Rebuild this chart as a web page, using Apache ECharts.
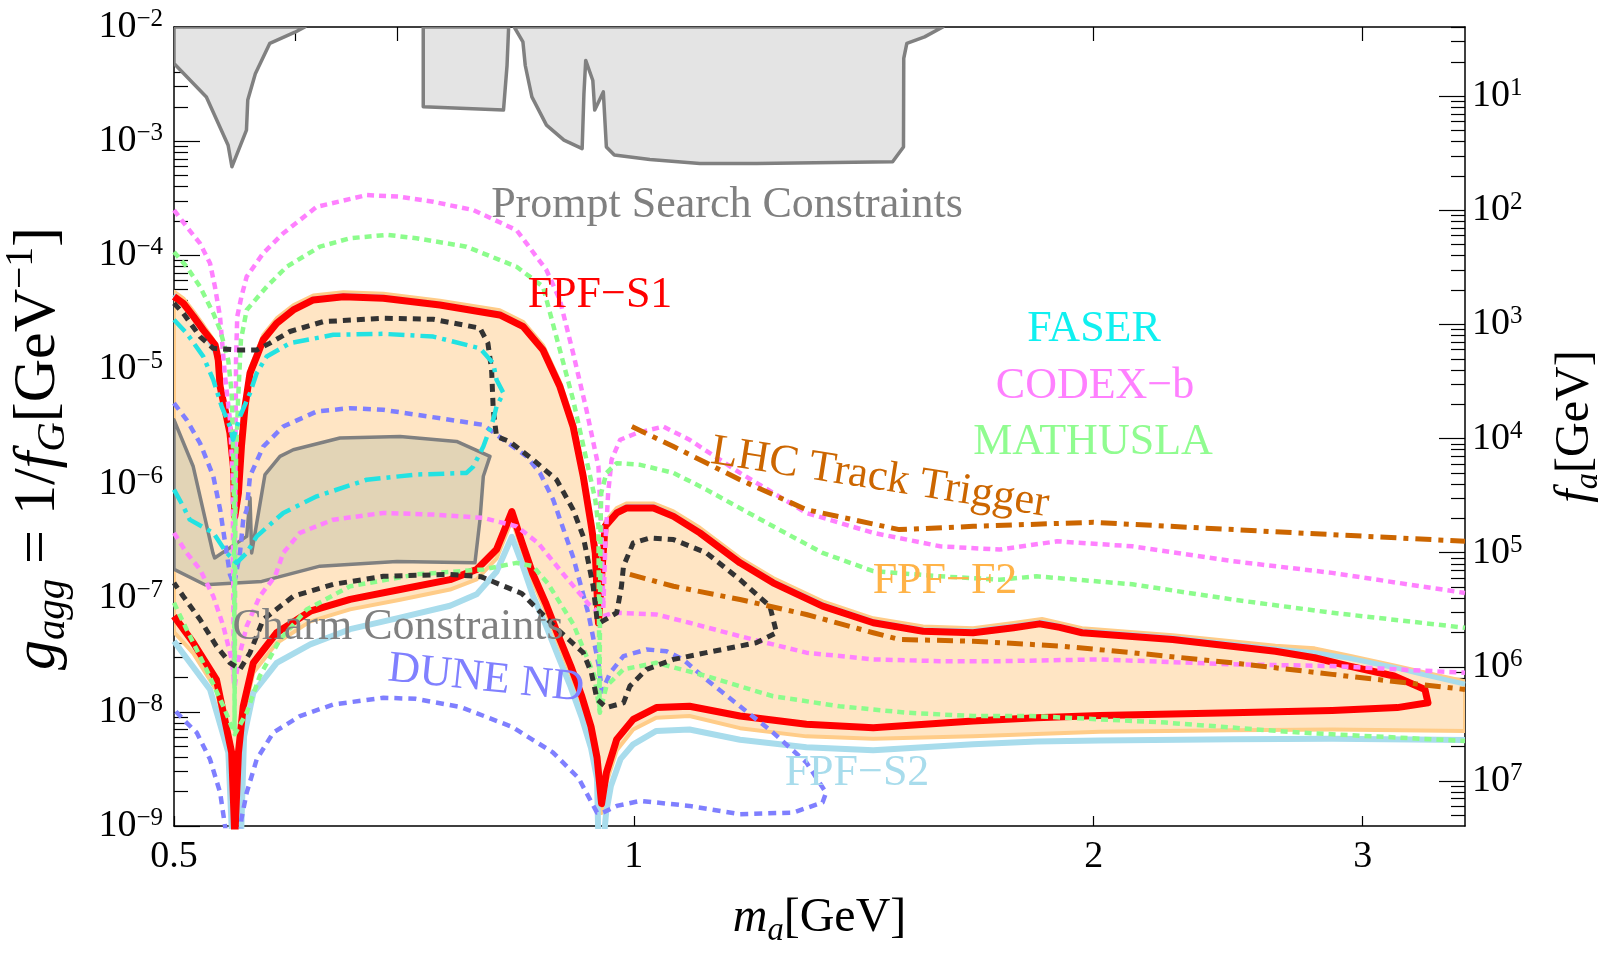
<!DOCTYPE html>
<html>
<head>
<meta charset="utf-8">
<script src="https://cdn.jsdelivr.net/npm/echarts@6/dist/echarts.min.js"></script>
<style>
  html, body { margin: 0; padding: 0; background: #ffffff; }
  #chart { width: 1606px; height: 955px; }
</style>
</head>
<body>
<div id="chart"></div>
<script>
// ---- axis values ----
const X_MIN = 0.5, X_MAX = 3.5;
const Y_MIN = 1e-9, Y_MAX = 1e-2;
const F_MIN = 2.48, F_MAX = 2.48e7;
const X_LABELS = [0.5, 1, 2, 3];
const X_TOP_MAJOR = [1];
const X_TOP_MINOR = [0.6, 0.7, 0.8, 0.9, 2, 3];
const Y_MAJOR = [1e-9, 1e-8, 1e-7, 1e-6, 1e-5, 1e-4, 1e-3, 1e-2];
const F_MAJOR = [1e1, 1e2, 1e3, 1e4, 1e5, 1e6, 1e7];

// ---- curves: [m_a (GeV), g_agg (GeV^-1)] ----
const PROMPT_A = [[0.5,1e-2],[0.5,4.8e-3],[0.525,2.44e-3],[0.5425,9.2e-4],[0.5456,5.96e-4],[0.5577,1.25e-3],[0.5588,2.29e-3],[0.5652,3.9e-3],[0.5777,7.2e-3],[0.6,9.0e-3],[0.609,1e-2]];
const PROMPT_B = [[0.728,1e-2],[0.728,2.0e-3],[0.8216,1.87e-3],[0.826,4.6e-3],[0.828,1e-2]];
const PROMPT_C = [[0.835,1e-2],[0.846,7.4e-3],[0.849,4.6e-3],[0.8575,2.44e-3],[0.8766,1.38e-3],[0.9,1.02e-3],[0.925,8.6e-4],[0.9275,2.6e-3],[0.93,5.1e-3],[0.94,3.4e-3],[0.9427,1.87e-3],[0.955,2.7e-3],[0.9594,8.9e-4],[0.971,7.55e-4],[1.0245,6.9e-4],[1.1046,6.38e-4],[1.2035,6.38e-4],[1.477,6.6e-4],[1.5014,8.9e-4],[1.502,5.3e-3],[1.509,7.2e-3],[1.55,8.2e-3],[1.593,1e-2]];

const CHARM = [[0.5,3.62e-6],[0.5147,1.41e-6],[0.5302,2.47e-7],[0.5316,2.23e-7],[0.5579,3.45e-7],[0.5607,7.5e-7],[0.5621,2.47e-7],[0.5735,1.2e-6],[0.5866,1.73e-6],[0.5985,1.98e-6],[0.6421,2.51e-6],[0.703,2.59e-6],[0.7655,2.34e-6],[0.805,1.73e-6],[0.797,1.16e-6],[0.793,4.83e-7],[0.787,2.02e-7],[0.6996,2.08e-7],[0.623,1.89e-7],[0.5707,1.39e-7],[0.5239,1.3e-7],[0.5,1.77e-7]];

const FPF_S1 = [[0.5,4.34e-5],[0.507,3.8e-5],[0.515,2.9e-5],[0.5225,2.22e-5],[0.532,1.64e-5],[0.5345,1.21e-5],[0.536,7.08e-6],[0.54,4.43e-6],[0.544,2.77e-6],[0.5468,1.41e-6],[0.548,5.16e-7],[0.551,8.28e-7],[0.5535,2.11e-6],[0.5565,4.73e-6],[0.5607,9.29e-6],[0.5664,1.3e-5],[0.572,1.82e-5],[0.5837,2.54e-5],[0.5985,3.32e-5],[0.6168,4.06e-5],[0.6454,4.34e-5],[0.6855,4.2e-5],[0.7465,3.67e-5],[0.817,3.0e-5],[0.8465,2.37e-5],[0.872,1.48e-5],[0.8945,7.08e-6],[0.9125,3.16e-6],[0.9265,1.16e-6],[0.938,4.22e-7],[0.9435,2.47e-7],[0.948,6.03e-8],[0.9575,4.22e-7],[0.9745,5.53e-7],[0.9895,6.12e-7],[1.03,6.12e-7],[1.0615,5.16e-7],[1.1045,3.7e-7],[1.1735,2.02e-7],[1.2335,1.35e-7],[1.329,8.43e-8],[1.4345,6.03e-8],[1.5465,5.09e-8],[1.6675,4.93e-8],[1.7725,5.46e-8],[1.8435,5.9e-8],[1.9,5.5e-8],[1.965,4.93e-8],[2.2525,4.31e-8],[2.63,3.4e-8],[2.79,2.98e-8],[2.94,2.52e-8],[3.145,2.06e-8],[3.295,1.57e-8],[3.31,1.2e-8],[3.16,1.09e-8],[2.865,1.03e-8],[2.465,9.84e-9],[2.018,9.31e-9],[1.835,8.89e-9],[1.6675,8.3e-9],[1.4345,7.27e-9],[1.297,7.78e-9],[1.1735,9.19e-9],[1.0875,1.12e-8],[1.0345,1.09e-8],[0.999,8.59e-9],[0.9745,5.74e-9],[0.9595,2.94e-9],[0.9525,1.57e-9],[0.946,3.98e-9],[0.9375,7.4e-9],[0.9245,1.37e-8],[0.909,2.55e-8],[0.892,4.73e-8],[0.876,8.81e-8],[0.8585,1.63e-7],[0.845,3.03e-7],[0.832,5.68e-7],[0.813,2.64e-7],[0.789,1.77e-7],[0.758,1.44e-7],[0.703,1.18e-7],[0.652,9.66e-8],[0.614,7.62e-8],[0.5837,4.93e-8],[0.5635,2.69e-8],[0.555,1.12e-8],[0.551,4.4e-9],[0.548,8e-10],[0.5454,4.4e-9],[0.533,1.92e-8],[0.5148,4.03e-8],[0.5,6.89e-8]];

const FPF_F2 = [[0.5,4.8e-5],[0.507,4.2e-5],[0.515,3.2e-5],[0.5225,2.45e-5],[0.53,1.85e-5],[0.533,1.35e-5],[0.535,7.8e-6],[0.539,4.8e-6],[0.543,3.0e-6],[0.546,1.5e-6],[0.548,5.5e-7],[0.551,9e-7],[0.5535,2.3e-6],[0.5565,5.2e-6],[0.5607,1.02e-5],[0.5664,1.43e-5],[0.572,2.0e-5],[0.5837,2.8e-5],[0.5985,3.65e-5],[0.6168,4.45e-5],[0.6454,4.75e-5],[0.6855,4.6e-5],[0.7465,4.0e-5],[0.817,3.3e-5],[0.8465,2.6e-5],[0.872,1.63e-5],[0.8945,7.8e-6],[0.9125,3.5e-6],[0.9265,1.28e-6],[0.938,4.6e-7],[0.9435,2.7e-7],[0.948,6.5e-8],[0.9575,4.6e-7],[0.9745,6.1e-7],[0.9895,6.7e-7],[1.03,6.7e-7],[1.0615,5.7e-7],[1.1045,4.1e-7],[1.1735,2.22e-7],[1.2335,1.49e-7],[1.329,9.3e-8],[1.4345,6.6e-8],[1.5465,5.6e-8],[1.6675,5.4e-8],[1.7725,6.0e-8],[1.85,6.5e-8],[1.965,5.4e-8],[2.2525,4.7e-8],[2.63,3.8e-8],[2.79,3.6e-8],[2.94,3.1e-8],[3.145,2.55e-8],[3.3,2.2e-8],[3.5,1.85e-8],
  [3.5,6.8e-9],[2.865,7.0e-9],[2.465,6.9e-9],[2.018,6.7e-9],[1.835,6.4e-9],[1.6675,6.1e-9],[1.4345,5.8e-9],[1.297,6.1e-9],[1.1735,7.2e-9],[1.0875,9.2e-9],[1.0345,8.9e-9],[0.999,7.0e-9],[0.9745,4.6e-9],[0.9595,2.4e-9],[0.9525,1.3e-9],[0.946,3.3e-9],[0.9375,6.2e-9],[0.9245,1.15e-8],[0.909,2.15e-8],[0.892,4.0e-8],[0.876,7.5e-8],[0.8585,1.39e-7],[0.845,2.6e-7],[0.832,4.8e-7],[0.813,2.2e-7],[0.789,1.45e-7],[0.758,1.18e-7],[0.703,9.6e-8],[0.652,7.9e-8],[0.614,6.2e-8],[0.5837,4.0e-8],[0.5635,2.2e-8],[0.555,9.0e-9],[0.551,3.5e-9],[0.548,6e-10],[0.5454,3.5e-9],[0.533,1.55e-8],[0.5148,3.25e-8],[0.5,5.0e-8]];

const FPF_S2_UP = [[0.5,4.5e-5],[0.515,3.0e-5],[0.5225,2.3e-5],[0.5345,1.25e-5],[0.536,7.3e-6],[0.54,4.6e-6],[0.544,2.85e-6],[0.5468,1.45e-6],[0.548,5.3e-7],[0.551,8.5e-7],[0.5535,2.2e-6],[0.5565,4.9e-6],[0.5607,9.6e-6],[0.572,1.88e-5],[0.5837,2.6e-5],[0.5985,3.4e-5],[0.6168,4.15e-5],[0.6454,4.45e-5],[0.6855,4.3e-5],[0.7465,3.75e-5],[0.817,3.07e-5],[0.8465,2.43e-5],[0.872,1.52e-5],[0.8945,7.3e-6],[0.9125,3.25e-6],[0.9265,1.2e-6],[0.938,4.35e-7],[0.9435,2.55e-7],[0.948,6.2e-8],[0.9575,4.35e-7],[0.9745,5.7e-7],[0.9895,6.3e-7],[1.03,6.3e-7],[1.0615,5.3e-7],[1.1045,3.8e-7],[1.1735,2.08e-7],[1.2335,1.39e-7],[1.329,8.7e-8],[1.4345,6.2e-8],[1.5465,5.25e-8],[1.6675,5.1e-8],[1.7725,5.65e-8],[1.85,6.1e-8],[1.965,5.1e-8],[2.2525,4.45e-8],[2.63,3.55e-8],[2.79,3.3e-8],[2.94,2.95e-8],[3.145,2.45e-8],[3.3,2.1e-8],[3.5,1.75e-8]];
const FPF_S2_LO = [[3.5,5.66e-9],[2.865,5.82e-9],[2.465,5.75e-9],[2.018,5.6e-9],[1.835,5.5e-9],[1.6675,5.2e-9],[1.4345,4.6e-9],[1.297,4.9e-9],[1.1735,5.7e-9],[1.0875,7.0e-9],[1.0345,6.8e-9],[0.999,5.2e-9],[0.98,3.85e-9],[0.966,2.24e-9],[0.959,1.3e-9],[0.955,7e-10],[0.948,7e-10],[0.946,2.6e-9],[0.9375,4.8e-9],[0.9245,8.9e-9],[0.909,1.66e-8],[0.892,3.1e-8],[0.876,5.7e-8],[0.8585,1.06e-7],[0.845,1.97e-7],[0.832,3.42e-7],[0.813,1.69e-7],[0.789,1.07e-7],[0.758,8.5e-8],[0.703,6.7e-8],[0.652,5.3e-8],[0.614,3.9e-8],[0.5837,2.69e-8],[0.5635,1.47e-8],[0.5557,6.1e-9],[0.553,7e-10],[0.546,7e-10],[0.5427,4.4e-9],[0.5279,1.57e-8],[0.5,4.16e-8]];

const CODEXB_UP = [[0.5,2.49e-4],[0.5096,1.78e-4],[0.52,1.27e-4],[0.5279,8.51e-5],[0.5318,5.31e-5],[0.5359,2.9e-5],[0.54,8.67e-6],[0.544,3.62e-6],[0.5462,1.2e-6],[0.5472,1.8e-8],[0.5485,1.2e-6],[0.549,1.21e-5],[0.55,2.9e-5],[0.5535,4.34e-5],[0.5579,6.5e-5],[0.5719,1.04e-4],[0.5895,1.56e-4],[0.62,2.66e-4],[0.6685,3.37e-4],[0.703,3.26e-4],[0.739,2.94e-4],[0.785,2.49e-4],[0.838,1.66e-4],[0.8765,7.43e-5],[0.8945,4.06e-5],[0.9125,1.39e-5],[0.931,4.43e-6],[0.948,1.41e-6],[0.953,3e-7],[0.955,8e-8],[0.958,3e-7],[0.962,8.28e-7],[0.967,1.62e-6],[0.9795,2.42e-6],[1.0045,2.77e-6],[1.045,3.16e-6],[1.0875,2.42e-6],[1.1735,1.24e-6],[1.297,5.53e-7],[1.4345,3.7e-7],[1.5865,2.82e-7],[1.735,2.64e-7],[1.8925,3.12e-7],[2.12,2.82e-7],[2.465,2.09e-7],[2.865,1.65e-7],[3.5,1.1e-7]];
const CODEXB_LO = [[0.5,3.7e-7],[0.5096,2.47e-7],[0.52,1.77e-7],[0.5305,1.03e-7],[0.5386,5.64e-8],[0.5454,2.88e-8],[0.548,1.68e-8],[0.551,2.88e-8],[0.5579,5.64e-8],[0.569,1.03e-7],[0.5823,1.54e-7],[0.5895,2.47e-7],[0.6045,3.7e-7],[0.6357,4.83e-7],[0.6855,5.53e-7],[0.739,5.35e-7],[0.797,5.0e-7],[0.838,4.22e-7],[0.8655,3.02e-7],[0.8985,1.63e-7],[0.934,8.8e-8],[0.9545,6.89e-8],[0.9695,7.38e-8],[1.0345,7.13e-8],[1.0875,6.03e-8],[1.1735,4.6e-8],[1.297,3.3e-8],[1.4345,2.88e-8],[1.5865,2.78e-8],[1.735,2.78e-8],[2.018,2.88e-8],[2.465,2.61e-8],[2.865,2.52e-8],[3.5,2.2e-8]];

const MATHUSLA_UP = [[0.5,1.07e-4],[0.5096,7.94e-5],[0.52,5.31e-5],[0.5305,3.11e-5],[0.536,2.22e-5],[0.5426,1.21e-5],[0.5454,6.21e-6],[0.5468,1.62e-6],[0.5473,6.5e-7],[0.5478,7e-9],[0.5485,6.5e-7],[0.549,1.62e-6],[0.5507,5.42e-6],[0.5531,1.82e-5],[0.5579,3.32e-5],[0.575,5.31e-5],[0.5926,7.94e-5],[0.623,1.19e-4],[0.652,1.41e-4],[0.689,1.51e-4],[0.7205,1.41e-4],[0.777,1.19e-4],[0.838,7.94e-5],[0.872,5.31e-5],[0.8945,1.48e-5],[0.9125,5.42e-6],[0.931,1.62e-6],[0.9435,7.23e-7],[0.948,4.22e-7],[0.9495,1.1e-8],[0.951,4.22e-7],[0.952,8.28e-7],[0.9595,1.24e-6],[0.9745,1.51e-6],[1.0095,1.46e-6],[1.0615,1.24e-6],[1.1155,8.85e-7],[1.2335,4.22e-7],[1.329,2.47e-7],[1.4345,1.71e-7],[1.5865,1.54e-7],[1.735,1.44e-7],[1.835,1.54e-7],[2.12,1.31e-7],[2.465,9.64e-8],[2.865,7.38e-8],[3.5,5.46e-8]];
const MATHUSLA_LO = [[0.5,9.02e-8],[0.5096,5.27e-8],[0.525,2.36e-8],[0.5386,1.12e-8],[0.548,6.36e-9],[0.5579,9.84e-9],[0.569,2.06e-8],[0.5866,4.31e-8],[0.6107,7.88e-8],[0.652,1.26e-7],[0.7205,1.6e-7],[0.797,1.77e-7],[0.838,2.02e-7],[0.859,1.89e-7],[0.8785,1.33e-7],[0.913,5.83e-8],[0.942,2.09e-8],[0.95,9.84e-9],[0.9595,1.68e-8],[0.9845,2.36e-8],[1.0345,2.69e-8],[1.1155,2.06e-8],[1.2335,1.37e-8],[1.3635,1.12e-8],[1.5075,9.84e-9],[1.6675,9.19e-9],[1.82,9.19e-9],[2.23,8.05e-9],[2.7275,6.58e-9],[3.5,5.56e-9]];

const DUNE_ND = [[0.5,5.07e-6],[0.5096,3.62e-6],[0.52,2.26e-6],[0.5305,1.16e-6],[0.536,5.91e-7],[0.5413,2.47e-7],[0.544,1.6e-7],[0.5473,1.3e-7],[0.5523,2.47e-7],[0.555,4.83e-7],[0.5579,5.91e-7],[0.5607,1.16e-6],[0.572,2.11e-6],[0.5895,3.16e-6],[0.62,4.28e-6],[0.652,4.58e-6],[0.6855,4.43e-6],[0.7205,4.01e-6],[0.797,3.27e-6],[0.8215,2.42e-6],[0.8507,1.73e-6],[0.868,1.24e-6],[0.8855,7.23e-7],[0.913,2.22e-7],[0.934,7.13e-8],[0.9485,2.55e-8],[0.953,1.51e-8],[0.965,2.2e-8],[0.9845,3.08e-8],[1.0195,3.52e-8],[1.0505,3.4e-8],[1.077,2.88e-8],[1.1155,1.92e-8],[1.1735,1.12e-8],[1.2335,6.58e-9],[1.297,3.6e-9],[1.336,1.96e-9],[1.329,1.61e-9],[1.2715,1.31e-9],[1.1735,1.27e-9],[1.0875,1.5e-9],[1.0095,1.66e-9],[0.9745,1.5e-9],[0.9545,1.31e-9],[0.946,1.31e-9],[0.92,2.63e-9],[0.885,4.42e-9],[0.832,7.4e-9],[0.7705,1.1e-8],[0.72,1.3e-8],[0.6855,1.33e-8],[0.6357,1.16e-8],[0.6045,9.19e-9],[0.5807,6.58e-9],[0.5664,3.84e-9],[0.5579,1.96e-9],[0.5535,1.15e-9],[0.5523,8e-10],[0.5413,8e-10],[0.536,1.96e-9],[0.5279,3.84e-9],[0.5174,6.58e-9],[0.507,8.59e-9],[0.5,1.05e-8]];

const FASER2_BLACK = [[0.5,3.8e-5],[0.507,3.11e-5],[0.52,1.94e-5],[0.5305,1.53e-5],[0.5495,1.48e-5],[0.5664,1.48e-5],[0.5778,1.7e-5],[0.5955,2.15e-5],[0.626,2.62e-5],[0.6855,2.81e-5],[0.739,2.75e-5],[0.793,2.3e-5],[0.8025,1.7e-5],[0.807,9.91e-6],[0.809,4.43e-6],[0.813,2.59e-6],[0.829,2.34e-6],[0.859,1.62e-6],[0.89,1.08e-6],[0.9125,5.91e-7],[0.9265,3.45e-7],[0.9405,1.26e-7],[0.946,6.44e-8],[0.95,6.03e-8],[0.9745,7.38e-8],[0.9815,1.26e-7],[0.9845,1.89e-7],[0.999,3.02e-7],[1.0245,3.34e-7],[1.0615,3.23e-7],[1.1155,2.47e-7],[1.1735,1.44e-7],[1.2275,8.43e-8],[1.24,4.93e-8],[1.2025,4.03e-8],[1.1155,3.3e-8],[1.0615,2.88e-8],[1.0195,2.36e-8],[0.994,1.68e-8],[0.9845,1.2e-8],[0.9595,1.09e-8],[0.946,1.29e-8],[0.938,2.2e-8],[0.9265,3.3e-8],[0.8915,5.27e-8],[0.8445,1.09e-7],[0.794,1.53e-7],[0.758,1.6e-7],[0.6855,1.54e-7],[0.6357,1.31e-7],[0.5985,1.03e-7],[0.572,6.44e-8],[0.5607,3.3e-8],[0.5523,2.36e-8],[0.544,2.69e-8],[0.533,3.77e-8],[0.52,6.44e-8],[0.507,1.03e-7],[0.5,1.35e-7]];

const FASER = [[0.5,2.72e-5],[0.5096,2.08e-5],[0.5225,1.3e-5],[0.5305,8.11e-6],[0.5373,4.73e-6],[0.544,3.16e-6],[0.5465,2.42e-6],[0.5523,3.87e-6],[0.5607,6.21e-6],[0.5664,9.29e-6],[0.575,1.3e-5],[0.5955,1.7e-5],[0.6357,2.01e-5],[0.6855,2.05e-5],[0.739,1.94e-5],[0.793,1.53e-5],[0.809,1.13e-5],[0.813,8.11e-6],[0.8215,6.21e-6],[0.813,4.73e-6],[0.809,3.62e-6],[0.797,2.11e-6],[0.785,1.41e-6],[0.777,1.24e-6],[0.7205,1.2e-6],[0.6685,1.08e-6],[0.62,7.73e-7],[0.5895,5.53e-7],[0.5664,3.45e-7],[0.5579,2.47e-7],[0.5495,2.02e-7],[0.5413,2.47e-7],[0.5305,3.7e-7],[0.512,4.83e-7],[0.507,6.31e-7],[0.5,8.85e-7]];

const LHC_TRIGGER_UP = [[0.997,3.16e-6],[1.0615,2.11e-6],[1.1735,1.08e-6],[1.297,5.91e-7],[1.492,3.95e-7],[1.6675,4.22e-7],[1.998,4.58e-7],[2.346,4.09e-7],[2.865,3.57e-7],[3.5,3.12e-7]];
const LHC_TRIGGER_LO = [[0.994,1.6e-7],[1.0615,1.26e-7],[1.1735,9.64e-8],[1.297,7.13e-8],[1.4345,4.93e-8],[1.492,4.31e-8],[1.6675,4.16e-8],[1.902,3.77e-8],[2.12,3.3e-8],[2.465,2.69e-8],[2.865,2.13e-8],[3.5,1.57e-8]];

// ---- styling / layout ----
const FONT = '"Liberation Serif", "Times New Roman", serif';
const GRID = { left: 174, right: 141, top: 27, bottom: 129, outerBoundsMode: 'none', containLabel: false };

const Y_MINOR = [];
for (let e = -9; e < -2; e++) {
  for (let k = 2; k <= 9; k++) Y_MINOR.push(k * Math.pow(10, e));
}
const F_MINOR = [];
for (let e = 1; e <= 8; e++) {
  for (let k = 2; k <= 9; k++) {
    const v = Math.pow(10, e) / k;
    if (v > F_MIN && v < F_MAX) F_MINOR.push(v);
  }
}

function powLabel(v) {
  const e = Math.round(Math.log10(v));
  return '{b|10}{s|' + (e < 0 ? '\u2212' + (-e) : e) + '}';
}
const tickRich = {
  b: { fontFamily: FONT, fontSize: 38, color: '#000', lineHeight: 40 },
  s: { fontFamily: FONT, fontSize: 25, color: '#000', lineHeight: 25, verticalAlign: 'top' }
};
function nameRich(size) {
  return {
    i: { fontFamily: FONT, fontStyle: 'italic', fontSize: size, color: '#000', lineHeight: size * 1.2 },
    n: { fontFamily: FONT, fontSize: size, color: '#000', lineHeight: size * 1.2 },
    sub: { fontFamily: FONT, fontStyle: 'italic', fontSize: size * 0.68, color: '#000', lineHeight: size * 0.68, verticalAlign: 'bottom' },
    sup: { fontFamily: FONT, fontSize: size * 0.66, color: '#000', lineHeight: size * 0.66, verticalAlign: 'top' }
  };
}

const tickLine = { color: '#000', width: 1.2 };

function logAxis(extra) {
  return Object.assign({
    type: 'log', logBase: 10,
    splitLine: { show: false }, minorTick: { show: false }, minorSplitLine: { show: false },
    axisLine: { show: true, onZero: false, lineStyle: { color: '#000', width: 1.5 } }
  }, extra);
}

function polygon(name, pts, fill, stroke, width) {
  return {
    type: 'custom', name: name, silent: true, animation: false,
    coordinateSystem: 'cartesian2d', encode: { x: 0, y: 1 },
    data: pts,
    renderItem: function (params, api) {
      if (params.dataIndex !== 0) return null;
      const cs = params.coordSys;
      return {
        type: 'polygon',
        shape: { points: pts.map(function (p) { return api.coord(p); }) },
        style: { fill: fill, stroke: stroke, lineWidth: width, lineJoin: 'round' },
        clipPath: { type: 'rect', shape: { x: cs.x, y: cs.y, width: cs.width, height: cs.height } }
      };
    }
  };
}

function curve(name, pts, color, width, dash) {
  return {
    type: 'line', name: name, data: pts, symbol: 'none', showSymbol: false,
    silent: true, clip: true, animation: false,
    lineStyle: { color: color, width: width, type: dash || 'solid', cap: 'butt', join: 'round' }
  };
}

const ANNOTATIONS = [
  { text: 'Prompt Search Constraints', color: '#808080', x: 727, y: 205, rot: 0 },
  { text: 'FPF\u2212S1', color: '#ff0000', x: 600, y: 295, rot: 0 },
  { text: 'FASER', color: '#10f0f0', x: 1094, y: 329, rot: 0 },
  { text: 'CODEX\u2212b', color: '#ff80ff', x: 1095, y: 386, rot: 0 },
  { text: 'MATHUSLA', color: '#90fc90', x: 1093, y: 442, rot: 0 },
  { text: 'LHC Track Trigger', color: '#cc6600', x: 880, y: 478, rot: -9 },
  { text: 'FPF\u2212F2', color: '#ffb347', x: 945, y: 581, rot: 0 },
  { text: 'Charm Constraints', color: '#808080', x: 398, y: 627, rot: 0 },
  { text: 'DUNE ND', color: '#8080ff', x: 486, y: 679, rot: -6 },
  { text: 'FPF\u2212S2', color: '#a8dcec', x: 857, y: 773, rot: 0 }
];

const chart = echarts.init(document.getElementById('chart'), null, { renderer: 'canvas' });

chart.setOption({
  animation: false,
  backgroundColor: '#ffffff',
  grid: GRID,
  xAxis: [
    logAxis({
      position: 'bottom', min: X_MIN, max: X_MAX,
      axisTick: { show: true, inside: true, length: 10, customValues: X_LABELS, lineStyle: tickLine },
      axisLabel: {
        customValues: X_LABELS, margin: 12, fontFamily: FONT, fontSize: 38, color: '#000',
        formatter: function (v) { return String(Math.round(v * 10) / 10); }
      },
      name: '{i|m}{sub|a}{n|[GeV]}', nameLocation: 'middle', nameGap: 64,
      nameTextStyle: { rich: nameRich(48) }
    }),
    logAxis({
      position: 'top', min: X_MIN, max: X_MAX,
      axisTick: { show: true, inside: true, length: 27, customValues: X_TOP_MAJOR, lineStyle: tickLine },
      axisLabel: { show: false }
    }),
    logAxis({
      position: 'top', min: X_MIN, max: X_MAX,
      axisLine: { show: false },
      axisTick: { show: true, inside: true, length: 14, customValues: X_TOP_MINOR, lineStyle: tickLine },
      axisLabel: { show: false }
    })
  ],
  yAxis: [
    logAxis({
      position: 'left', min: Y_MIN, max: Y_MAX,
      axisTick: { show: true, inside: true, length: 26, customValues: Y_MAJOR, lineStyle: tickLine },
      axisLabel: { customValues: Y_MAJOR, margin: 11, formatter: powLabel, rich: tickRich },
      name: '{i|g}{sub|agg}{n| = 1/}{i|f}{sub|G}{n|[GeV}{sup|\u22121}{n|]}',
      nameLocation: 'middle', nameRotate: 90, nameGap: 100,
      nameTextStyle: { rich: nameRich(60), padding: [0, 44, 0, 0] }
    }),
    logAxis({
      position: 'left', min: Y_MIN, max: Y_MAX,
      axisLine: { show: false },
      axisTick: { show: true, inside: true, length: 14, customValues: Y_MINOR, lineStyle: tickLine },
      axisLabel: { show: false }
    }),
    logAxis({
      position: 'right', inverse: true, min: F_MIN, max: F_MAX,
      axisTick: { show: true, inside: true, length: 26, customValues: F_MAJOR, lineStyle: tickLine },
      axisLabel: { customValues: F_MAJOR, margin: 7, formatter: powLabel, rich: tickRich },
      name: '{i|f}{sub|a}{n|[GeV]}',
      nameLocation: 'middle', nameRotate: 90, nameGap: 82,
      nameTextStyle: { rich: nameRich(48) }
    }),
    logAxis({
      position: 'right', inverse: true, min: F_MIN, max: F_MAX,
      axisLine: { show: false },
      axisTick: { show: true, inside: true, length: 14, customValues: F_MINOR, lineStyle: tickLine },
      axisLabel: { show: false }
    })
  ],
  series: [
    polygon('Prompt A', PROMPT_A, '#e4e4e4', '#808080', 3.5),
    polygon('Prompt B', PROMPT_B, '#e4e4e4', '#808080', 3.5),
    polygon('Prompt C', PROMPT_C, '#e4e4e4', '#808080', 3.5),
    polygon('FPF-F2', FPF_F2, '#ffe5c4', '#ffcc88', 4),
    curve('FPF-S2 upper', FPF_S2_UP, '#a8dcec', 5),
    curve('FPF-S2 lower', FPF_S2_LO, '#a8dcec', 6),
    polygon('Charm', CHARM, '#e2d4b6', '#808080', 3.5),
    curve('FPF-S1', FPF_S1, '#ff0000', 7),
    curve('DUNE ND', DUNE_ND, '#7f7fff', 4.5, [8, 6]),
    curve('CODEX-b upper', CODEXB_UP, '#ff80ff', 4.5, [7, 5]),
    curve('CODEX-b lower', CODEXB_LO, '#ff80ff', 4.5, [7, 5]),
    curve('MATHUSLA upper', MATHUSLA_UP, '#8cfc8c', 4.5, [7, 5]),
    curve('MATHUSLA lower', MATHUSLA_LO, '#8cfc8c', 4.5, [7, 5]),
    curve('FASER2', FASER2_BLACK, '#333333', 5, [8, 6]),
    curve('FASER', FASER, '#22e2e2', 4.5, [16, 6, 4, 6]),
    curve('LHC Track Trigger upper', LHC_TRIGGER_UP, '#cc6600', 5, [16, 7, 5, 7]),
    curve('LHC Track Trigger lower', LHC_TRIGGER_LO, '#cc6600', 5, [16, 7, 5, 7])
  ],
  graphic: ANNOTATIONS.map(function (a) {
    return {
      type: 'text', x: a.x, y: a.y, rotation: a.rot * Math.PI / 180, z: 100, silent: true,
      style: {
        text: a.text, fill: a.color, fontFamily: FONT, fontSize: 44,
        align: 'center', verticalAlign: 'middle', textAlign: 'center', textVerticalAlign: 'middle'
      }
    };
  })
});
</script>
</body>
</html>
